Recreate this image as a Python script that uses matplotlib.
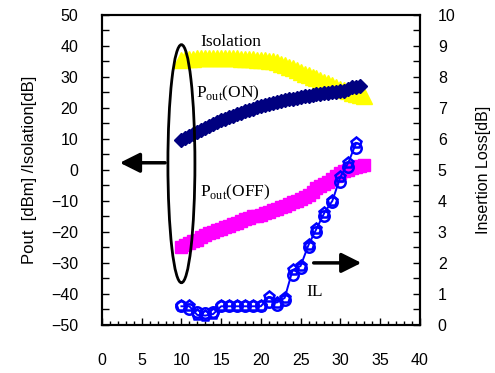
import numpy as np
import matplotlib
matplotlib.use('Agg')
import matplotlib.pyplot as plt
from matplotlib.patches import Ellipse

plt.rcParams['font.family'] = ['Liberation Sans', 'DejaVu Sans']

# input power [dBm], 0.5 dB steps from 10 to 33
pin = np.arange(10, 33.01, 0.5)
isolation = [35.5, 35.7, 35.8, 35.9, 36.0, 36.0, 36.0, 36.0, 36.0, 36.0, 36.0, 36.0,
             36.0, 36.0, 36.0, 35.9, 35.8, 35.8, 35.7, 35.6, 35.5, 35.4, 35.2, 35.0,
             34.7, 34.3, 33.8, 33.3, 32.8, 32.2, 31.7, 31.1, 30.5, 30.0, 29.5, 29.0,
             28.5, 27.9, 27.3, 26.7, 26.2, 25.7, 25.3, 24.9, 24.5, 24.2, 24.0]
pout_on = [9.5, 10.2, 11.0, 11.6, 12.3, 12.9, 13.5, 14.2, 14.8, 15.4, 16.0, 16.5,
           17.0, 17.5, 18.0, 18.5, 19.0, 19.4, 19.8, 20.2, 20.5, 20.9, 21.2, 21.6,
           22.0, 22.2, 22.5, 22.8, 23.0, 23.3, 23.5, 23.8, 24.0, 24.3, 24.5, 24.6,
           24.8, 24.9, 25.0, 25.1, 25.3, 25.6, 26.0, 26.6, 26.8, 27.2]
pout_off = [-25.0, -24.2, -23.5, -23.0, -22.5, -21.7, -21.0, -20.5, -20.0, -19.5, -19.0, -18.5,
            -18.0, -17.5, -17.0, -16.5, -16.0, -15.5, -15.0, -14.8, -14.5, -14.0, -13.5, -13.0,
            -12.5, -12.0, -11.5, -11.0, -10.5, -10.0, -9.5, -8.8, -8.0, -7.0, -6.0, -5.3,
            -4.5, -3.8, -3.0, -2.0, -1.0, -0.5, 0.0, 0.5, 1.0, 1.3, 1.5]

# insertion loss [dB]
il_x = [10, 11, 12, 13, 14, 15, 16, 17, 18, 19, 20, 21, 22,
        23, 24, 25, 26, 27, 28, 29, 30, 31, 32]
il_a = [0.6, 0.6, 0.32, 0.3, 0.35, 0.6, 0.6, 0.6, 0.6, 0.6, 0.6, 0.9, 0.72,
        0.87, 1.77, 1.9, 2.58, 3.1, 3.62, 4.0, 4.77, 5.23, 5.87]
il_b = [0.62, 0.5, 0.4, 0.38, 0.4, 0.62, 0.62, 0.62, 0.62, 0.62, 0.62, 0.75, 0.65,
        0.8, 1.6, 1.85, 2.5, 3.0, 3.5, 3.95, 4.6, 5.1, 5.7]

fig = plt.figure(figsize=(4.95, 3.73), dpi=100)
ax = fig.add_axes([0.206, 0.129, 0.642, 0.831])
ax2 = ax.twinx()

ax.plot(pin, isolation, ls='none', marker='^', ms=11, color='#ffff00', mec='#ffff00')
ax.plot(pin[:len(pout_on)], pout_on, ls='none', marker='D', ms=7.5, color='#000080', mec='#000080')
ax.plot(pin, pout_off, ls='none', marker='s', ms=8.5, color='#ff00ff', mec='#ff00ff')

ax2.plot(il_x, il_a, color='#0000ff', lw=1.4, marker='p', ms=8, mfc='none', mew=1.8)
ax2.plot(il_x, il_b, ls='none', color='#0000ff', marker='o', ms=7.5, mfc='none', mew=1.8)

ax.set_xlim(0, 40)
ax.set_ylim(-50, 50)
ax2.set_ylim(0, 10)
ax.set_xticks(np.arange(0, 41, 5))
ax.set_xticks(np.arange(0, 41, 1), minor=True)
ax.set_yticks(np.arange(-50, 51, 10))
ax.set_yticks(np.arange(-50, 51, 5), minor=True)
ax2.set_yticks(np.arange(0, 11, 1))
ax2.set_yticks(np.arange(0, 10.1, 0.5), minor=True)

ax.tick_params(axis='x', which='major', direction='in', length=5, width=1, pad=20, labelsize=11.5)
ax.tick_params(axis='x', which='minor', direction='in', length=3, width=1)
ax.tick_params(axis='y', which='both', direction='in', length=5, width=1, pad=17, labelsize=11.5)
ax2.tick_params(axis='y', which='both', direction='in', length=5, width=1, pad=13, labelsize=11.5)
for a in (ax, ax2):
    for s in a.spines.values():
        s.set_linewidth(1.5)

ax.set_ylabel('Pout  [dBm] /Isolation[dB]', fontsize=12, labelpad=10)
ax2.set_ylabel('Insertion Loss[dB]', fontsize=11.5, labelpad=15)

# annotations
serif = dict(family='Liberation Serif', fontsize=12.5, color='black')
ax.text(16.2, 41.3, 'Isolation', ha='center', va='center', **serif)
ax.text(15.8, 24.8, r'P$_{\mathregular{out}}$(ON)', ha='center', va='center', **serif)
ax.text(16.8, -7.4, r'P$_{\mathregular{out}}$(OFF)', ha='center', va='center', **serif)
ax.text(26.7, -39.4, 'IL', ha='center', va='center', **serif)

ax.add_patch(Ellipse((10.0, 2.0), 3.4, 76.8, fill=False, ec='black', lw=2, zorder=5))
ax.annotate('', xy=(1.9, 2.3), xytext=(8.3, 2.3),
            arrowprops=dict(arrowstyle='-|>,head_length=1.2,head_width=0.6', color='black', lw=2.5))
ax2.annotate('', xy=(33.0, 2.0), xytext=(26.3, 2.0),
             arrowprops=dict(arrowstyle='-|>,head_length=1.2,head_width=0.6', color='black', lw=2.5))

fig.savefig('out.png', dpi=100)
